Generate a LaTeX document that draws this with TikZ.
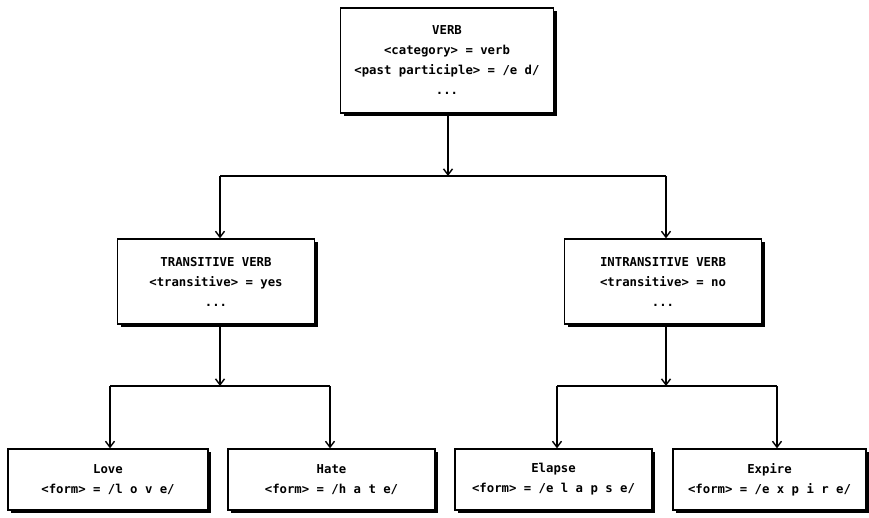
\documentclass[tikz,border=0pt]{standalone}
\usepackage{fontspec}
\setmonofont{DejaVu Sans Mono}
\usetikzlibrary{arrows.meta,shadows}
\begin{document}
\begin{tikzpicture}[x=1pt,y=-1pt,
  box/.style={draw,line width=1.3pt,fill=white,inner sep=0pt,align=center,
    font=\ttfamily\bfseries\fontsize{12.3}{20}\selectfont,
    drop shadow={shadow xshift=3pt,shadow yshift=-3pt,fill=black,opacity=1}},
  conn/.style={line width=1.1pt},
  arr/.style={conn,-{Straight Barb[length=6pt,width=9pt,line width=1.4pt]}}]
\useasboundingbox (0,0) rectangle (869,518);
% boxes
\node[box,minimum width=213pt,minimum height=105pt] (verb) at (447,60.5)
  {VERB\\<category> = verb\\<past participle> = /e d/\\...};
\node[box,minimum width=197pt,minimum height=85pt] (trans) at (216,281.5)
  {TRANSITIVE VERB\\<transitive> = yes\\...};
\node[box,minimum width=197pt,minimum height=85pt] (intrans) at (663,281.5)
  {INTRANSITIVE VERB\\<transitive> = no\\...};
\node[box,minimum width=200pt,minimum height=61pt] (love) at (108,479.5)
  {Love\\<form> = /l o v e/};
\node[box,minimum width=207pt,minimum height=61pt] (hate) at (331.5,479.5)
  {Hate\\<form> = /h a t e/};
\node[box,minimum width=197pt,minimum height=61pt] (elapse) at (553.5,479.5)
  {Elapse\\<form> = /e l a p s e/};
\node[box,minimum width=193pt,minimum height=61pt] (expire) at (769.5,479.5)
  {Expire\\<form> = /e x p i r e/};
% junction coordinates
\coordinate (cT) at (448,176);
\coordinate (cTL) at (220,176);
\coordinate (cTR) at (666,176);
\coordinate (cL) at (220,386);
\coordinate (cLL) at (110,386);
\coordinate (cLR) at (330,386);
\coordinate (cR) at (666,386);
\coordinate (cRL) at (557,386);
\coordinate (cRR) at (777,386);
% connectors
\draw[arr] (verb.south -| cT) -- (cT);
\draw[conn] (cTL) -- (cTR);
\draw[arr] (cTL) -- (cTL |- trans.north);
\draw[arr] (cTR) -- (cTR |- intrans.north);
\draw[arr] (trans.south -| cL) -- (cL);
\draw[conn] (cLL) -- (cLR);
\draw[arr] (cLL) -- (cLL |- love.north);
\draw[arr] (cLR) -- (cLR |- hate.north);
\draw[arr] (intrans.south -| cR) -- (cR);
\draw[conn] (cRL) -- (cRR);
\draw[arr] (cRL) -- (cRL |- elapse.north);
\draw[arr] (cRR) -- (cRR |- expire.north);
\end{tikzpicture}
\end{document}
